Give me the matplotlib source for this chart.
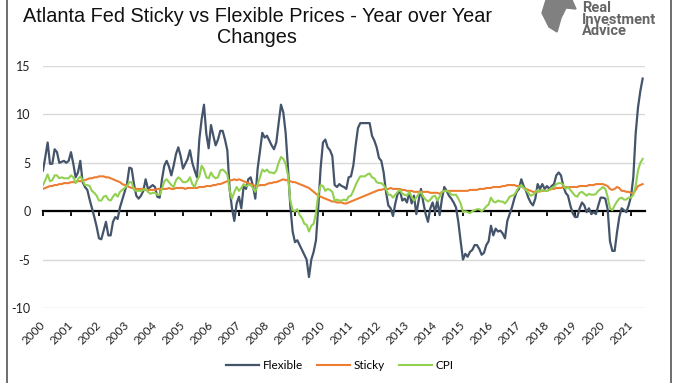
import numpy as np
import matplotlib.pyplot as plt
from matplotlib.lines import Line2D
from matplotlib.patches import Polygon

plt.rcParams['axes.unicode_minus'] = False

# monthly year-over-year changes, Jan 2000 - Jun 2021
flexible = [
    4.2, 5.6, 7.1, 4.9, 4.9, 6.4, 6.1, 5.0, 5.1, 5.2, 5.0, 5.2,      # 2000
    6.1, 4.9, 3.5, 4.0, 5.2, 3.0, 2.5, 2.2, 1.2, 0.3, -0.6, -1.6,    # 2001
    -2.8, -2.9, -2.0, -1.1, -2.5, -2.5, -1.1, -0.6, -0.8, 0.4, 1.2, 2.0,  # 2002
    2.8, 4.5, 4.4, 2.8, 1.6, 1.3, 1.6, 2.1, 3.3, 2.3, 2.5, 2.7,      # 2003
    2.5, 1.5, 1.4, 3.3, 4.7, 5.2, 4.6, 3.7, 4.7, 5.9, 6.6, 5.7,      # 2004
    4.4, 4.9, 5.4, 6.3, 5.0, 4.2, 3.5, 7.4, 9.5, 11.0, 8.0, 6.5,     # 2005
    8.9, 7.8, 6.8, 7.4, 8.3, 8.3, 7.4, 6.3, 2.3, 0.3, -1.0, 0.8,     # 2006
    1.5, 0.3, 2.6, 2.3, 3.3, 3.5, 2.6, 1.3, 4.4, 6.2, 8.1, 7.6,      # 2007
    7.8, 7.3, 6.8, 6.4, 7.1, 9.1, 11.0, 10.2, 8.1, 4.5, 0.5, -2.1,   # 2008
    -3.2, -3.0, -3.5, -4.0, -4.5, -5.0, -6.8, -5.0, -4.2, -3.0, 0.5, 4.5,  # 2009
    7.1, 7.4, 6.6, 6.3, 5.7, 2.7, 2.5, 2.8, 2.6, 2.5, 2.3, 3.5,      # 2010
    3.6, 4.7, 6.8, 8.6, 9.1, 9.1, 9.1, 9.1, 9.1, 7.8, 7.3, 6.6,      # 2011
    5.5, 5.2, 4.0, 2.0, 0.6, 0.3, -0.5, 0.8, 1.8, 2.1, 1.1, 1.3,     # 2012
    0.9, 2.0, 0.8, 1.6, -0.3, 1.1, 2.3, 0.9, -0.3, -1.1, 0.3, 0.9,   # 2013
    -0.1, 1.1, -0.4, 1.3, 2.5, 2.1, 1.6, 1.3, 0.9, 0.4, -1.1, -3.1,  # 2014
    -5.0, -4.4, -4.7, -4.2, -4.0, -3.5, -3.5, -3.9, -4.5, -4.3, -3.5, -3.1,  # 2015
    -1.5, -2.5, -1.8, -2.1, -2.0, -2.3, -2.8, -1.0, -0.3, 0.4, 1.3, 2.0,  # 2016
    2.3, 3.3, 2.6, 2.1, 1.4, 0.9, 0.6, 1.3, 2.8, 2.3, 2.8, 2.3,      # 2017
    2.6, 2.3, 2.6, 2.8, 3.7, 4.0, 3.7, 2.6, 1.9, 1.6, 0.6, -0.2,     # 2018
    -0.6, -0.6, 0.3, 0.9, 0.6, -0.1, 0.3, -0.3, -0.1, -0.3, 0.6, 1.4,  # 2019
    1.4, 1.3, 0.2, -3.1, -4.1, -4.1, -2.2, -0.6, 0.3, 0.1, -0.1, 0.6,  # 2020
    1.5, 3.5, 8.0, 10.7, 12.4, 13.7,                                 # 2021
]

sticky = [
    2.3, 2.4, 2.5, 2.6, 2.6, 2.7, 2.7, 2.8, 2.8, 2.9, 2.9, 2.9,
    3.0, 3.0, 3.0, 3.1, 3.1, 3.2, 3.2, 3.3, 3.4, 3.4, 3.5, 3.5,
    3.6, 3.6, 3.6, 3.5, 3.5, 3.4, 3.3, 3.2, 3.1, 3.0, 2.8, 2.7,
    2.6, 2.5, 2.4, 2.4, 2.3, 2.3, 2.3, 2.3, 2.2, 2.2, 2.2, 2.2,
    2.2, 2.3, 2.3, 2.3, 2.3, 2.3, 2.4, 2.3, 2.3, 2.4, 2.4, 2.4,
    2.4, 2.3, 2.4, 2.4, 2.4, 2.4, 2.4, 2.5, 2.5, 2.5, 2.6, 2.6,
    2.6, 2.7, 2.7, 2.8, 2.8, 2.9, 3.0, 3.1, 3.2, 3.2, 3.3, 3.2,
    3.3, 3.2, 3.1, 3.0, 2.9, 2.8, 2.7, 2.6, 2.6, 2.7, 2.7, 2.7,
    2.8, 2.9, 2.9, 3.0, 3.0, 3.1, 3.2, 3.3, 3.2, 3.2, 3.1, 3.0,
    3.0, 2.9, 2.8, 2.7, 2.6, 2.5, 2.4, 2.2, 2.0, 1.8, 1.6, 1.5,
    1.4, 1.3, 1.2, 1.1, 1.0, 1.0, 0.9, 0.9, 0.9, 0.8, 0.8, 0.9,
    1.0, 1.1, 1.2, 1.3, 1.4, 1.5, 1.6, 1.7, 1.8, 1.9, 2.0, 2.1,
    2.2, 2.2, 2.3, 2.3, 2.3, 2.4, 2.3, 2.3, 2.3, 2.3, 2.2, 2.2,
    2.1, 2.1, 2.1, 2.0, 2.0, 2.0, 2.0, 2.0, 2.0, 2.0, 1.9, 1.9,
    1.9, 1.9, 1.8, 2.0, 2.1, 2.1, 2.1, 2.1, 2.1, 2.1, 2.1, 2.1,
    2.1, 2.1, 2.1, 2.2, 2.2, 2.2, 2.2, 2.3, 2.3, 2.3, 2.4, 2.4,
    2.4, 2.5, 2.5, 2.5, 2.5, 2.6, 2.6, 2.7, 2.7, 2.7, 2.7, 2.6,
    2.6, 2.6, 2.4, 2.3, 2.2, 2.1, 2.0, 2.0, 2.0, 2.1, 2.1, 2.1,
    2.1, 2.2, 2.3, 2.3, 2.4, 2.4, 2.4, 2.5, 2.5, 2.5, 2.5, 2.5,
    2.5, 2.5, 2.6, 2.6, 2.6, 2.6, 2.7, 2.7, 2.7, 2.8, 2.8, 2.8,
    2.8, 2.7, 2.6, 2.3, 2.2, 2.3, 2.5, 2.4, 2.1, 2.1, 2.0, 2.0,
    1.9, 1.8, 2.2, 2.6, 2.7, 2.8,
]

cpi = [
    2.7, 3.2, 3.8, 3.1, 3.2, 3.7, 3.7, 3.4, 3.5, 3.4, 3.4, 3.4,
    3.7, 3.5, 2.9, 3.3, 3.6, 3.2, 2.7, 2.7, 2.6, 2.1, 1.9, 1.6,
    1.1, 1.1, 1.5, 1.6, 1.2, 1.1, 1.5, 1.8, 1.5, 2.0, 2.2, 2.4,
    2.6, 3.0, 3.0, 2.2, 2.1, 2.1, 2.1, 2.2, 2.3, 2.0, 1.8, 1.9,
    1.9, 1.7, 1.7, 2.3, 3.1, 3.3, 3.0, 2.7, 2.5, 3.2, 3.5, 3.3,
    3.0, 3.0, 3.1, 3.5, 2.8, 2.5, 3.2, 3.6, 4.7, 4.3, 3.5, 3.4,
    4.0, 3.6, 3.4, 3.5, 4.2, 4.3, 4.1, 3.8, 2.1, 1.3, 2.0, 2.5,
    2.1, 2.4, 2.8, 2.6, 2.7, 2.7, 2.4, 2.0, 2.8, 3.5, 4.3, 4.1,
    4.3, 4.0, 4.0, 3.9, 4.2, 5.0, 5.6, 5.4, 4.9, 3.7, 1.1, 0.1,
    0.0, 0.2, -0.4, -0.7, -1.3, -1.4, -2.1, -1.5, -1.3, -0.2, 1.8, 2.7,
    2.6, 2.1, 2.3, 2.2, 2.0, 1.1, 1.2, 1.1, 1.1, 1.2, 1.1, 1.5,
    1.6, 2.1, 2.7, 3.2, 3.6, 3.6, 3.6, 3.8, 3.9, 3.5, 3.4, 3.0,
    2.9, 2.9, 2.7, 2.3, 1.7, 1.7, 1.4, 1.7, 2.0, 2.2, 1.8, 1.7,
    1.6, 2.0, 1.5, 1.1, 1.4, 1.8, 2.0, 1.5, 1.2, 1.0, 1.2, 1.5,
    1.6, 1.1, 1.5, 2.0, 2.1, 2.1, 2.0, 1.7, 1.7, 1.7, 1.3, 0.8,
    -0.1, 0.0, -0.1, -0.2, 0.0, 0.1, 0.2, 0.2, 0.0, 0.2, 0.5, 0.7,
    1.4, 1.0, 0.9, 1.1, 1.0, 1.0, 0.8, 1.1, 1.5, 1.6, 1.7, 2.1,
    2.5, 2.7, 2.4, 2.2, 1.9, 1.6, 1.7, 1.9, 2.2, 2.0, 2.2, 2.1,
    2.1, 2.2, 2.4, 2.5, 2.8, 2.9, 2.9, 2.7, 2.3, 2.5, 2.2, 1.9,
    1.6, 1.5, 1.9, 2.0, 1.8, 1.6, 1.8, 1.7, 1.7, 1.8, 2.1, 2.3,
    2.5, 2.3, 1.5, 0.3, 0.1, 0.6, 1.0, 1.3, 1.4, 1.2, 1.2, 1.4,
    1.4, 1.7, 2.6, 4.2, 5.0, 5.4,
]

years = list(range(2000, 2022))
year_labels = [str(y) for y in years]

# monthly positions on a year scale
dates = 2000 + np.arange(len(flexible)) / 12

fig = plt.figure(figsize=(6.8, 3.83), dpi=100)
ax = fig.add_axes([0.0632, 0.1958, 0.8853, 0.6319])

ax.plot(dates, flexible, color='#44546A', lw=1.6, label='Flexible', zorder=3)
ax.plot(dates, sticky, color='#ED7D31', lw=1.5, label='Sticky', zorder=4)
ax.plot(dates, cpi, color='#92D050', lw=1.5, label='CPI', zorder=5)

ax.set_xlim(2000, 2021.5)
ax.set_ylim(-10, 15)
ax.set_yticks([-10, -5, 0, 5, 10, 15])
ax.yaxis.grid(True, color='#d9d9d9', lw=1)
ax.set_axisbelow(True)

for s in ['top', 'right', 'left']:
    ax.spines[s].set_visible(False)
ax.spines['bottom'].set_position(('data', 0))
ax.spines['bottom'].set_linewidth(1.6)
ax.spines['bottom'].set_zorder(2)

ax.set_xticks(years)
ax.tick_params(axis='x', direction='out', length=3.5, width=1.3, labelbottom=False)
ax.tick_params(axis='y', length=0, pad=9, labelsize=9, labelcolor='#222222')
for lab in ax.get_yticklabels():
    lab.set_fontfamily('Lato')

# year labels at the bottom of the plot
sec = ax.secondary_xaxis(0)
sec.spines['bottom'].set_visible(False)
sec.set_xticks(years)
sec.set_xticklabels(year_labels, rotation=45, ha='right', va='center',
                    rotation_mode='anchor', fontsize=8.5, family='Lato', color='#222222')
sec.tick_params(axis='x', length=0, pad=11)

fig.legend(loc='center', bbox_to_anchor=(0.5, 0.045), ncol=3, frameon=False,
           prop={'family': 'Lato', 'size': 8.5}, handlelength=2.8, columnspacing=1.2,
           handletextpad=0.3)

fig.text(0.378, 0.982, 'Atlanta Fed Sticky vs Flexible Prices - Year over Year\nChanges',
         ha='center', va='top', fontsize=14.3, family='Liberation Sans',
         linespacing=1.12, color='#111111')

# logo
fig.text(0.856, 0.997, 'Real\nInvestment\nAdvice', ha='left', va='top', fontsize=10.5,
         fontweight='bold', family='Roboto', color='#666666', linespacing=0.78)
W, H = 680.0, 383.0
eagle = [(546, 0), (572, 0), (576, 9), (566, 8), (561, 18), (557, 32), (549, 27), (542, 13)]
fig.patches.append(Polygon([(x / W, 1 - y / H) for x, y in eagle], closed=True,
                           transform=fig.transFigure, color='#808080'))

# frame lines at the sides
fig.lines.append(Line2D([6.5 / W, 6.5 / W], [0, 1], transform=fig.transFigure, color='#555555', lw=1.2))
fig.lines.append(Line2D([670.5 / W, 670.5 / W], [0, 1], transform=fig.transFigure, color='#555555', lw=1.2))

fig.savefig('out.png', dpi=100)
